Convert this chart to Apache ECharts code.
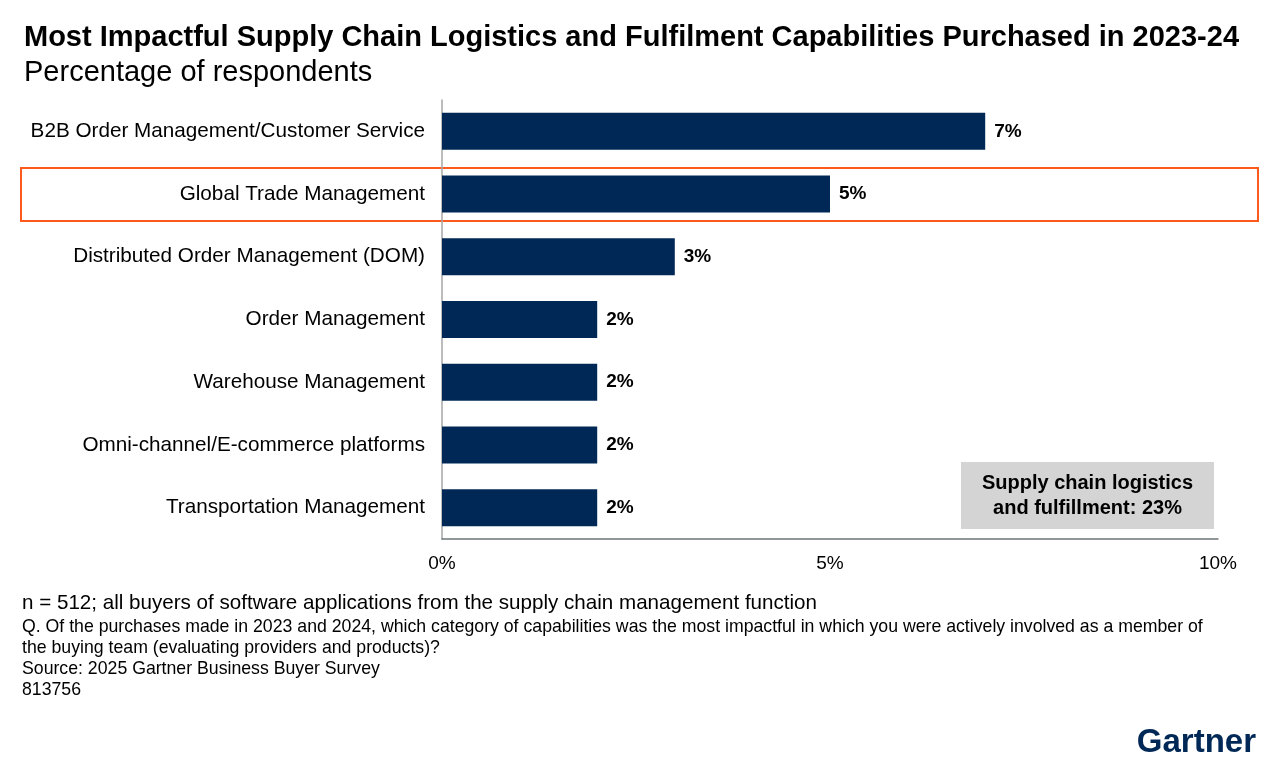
<!DOCTYPE html>
<html>
<head>
<meta charset="utf-8">
<script src="https://cdn.jsdelivr.net/npm/echarts@6/dist/echarts.min.js"></script>
<style>
  html, body { margin: 0; padding: 0; background: #fff; }
  #chart { width: 1280px; height: 770px; }
</style>
</head>
<body>
<div id="chart"></div>
<script>
var categories = [
  'B2B Order Management/Customer Service',
  'Global Trade Management',
  'Distributed Order Management (DOM)',
  'Order Management',
  'Warehouse Management',
  'Omni-channel/E-commerce platforms',
  'Transportation Management'
];
var values = [7, 5, 3, 2, 2, 2, 2];
var xTicks = [0, 5, 10];

var font = '"Liberation Sans", Arial, sans-serif';
var navy = '#002856';

var myChart = echarts.init(document.getElementById('chart'));

var option = {
  animation: false,
  textStyle: { fontFamily: font },
  title: [{
    text: 'Most Impactful Supply Chain Logistics and Fulfilment Capabilities Purchased in 2023-24',
    left: 19, top: 18,
    textStyle: { fontSize: 29, fontWeight: 'bold', color: '#000', fontFamily: font }
  }, {
    text: 'Percentage of respondents',
    left: 19, top: 53,
    textStyle: { fontSize: 29, fontWeight: 'normal', color: '#000', fontFamily: font }
  }],
  grid: { left: 442, right: 62, top: 100, bottom: 231 },
  xAxis: {
    type: 'value',
    min: xTicks[0], max: xTicks[xTicks.length - 1], interval: 5,
    axisLine: { show: true, lineStyle: { color: '#6e7677', width: 1.5 } },
    axisTick: { show: false },
    splitLine: { show: false },
    axisLabel: {
      formatter: '{value}%', fontSize: 19, color: '#000', margin: 15, fontFamily: font
    }
  },
  yAxis: {
    type: 'category',
    inverse: true,
    data: categories,
    axisLine: { show: true, lineStyle: { color: '#a6a6a6', width: 1.5 } },
    axisTick: { show: false },
    axisLabel: { fontSize: 20.7, color: '#000', margin: 17, fontFamily: font }
  },
  series: [{
    type: 'bar',
    data: values,
    barWidth: 37,
    itemStyle: { color: navy },
    label: {
      show: true, position: 'right', distance: 9,
      formatter: '{c}%', fontSize: 19, fontWeight: 'bold', color: '#000', fontFamily: font
    }
  }],
  graphic: [
    {
      type: 'rect',
      shape: { x: 21, y: 168, width: 1237, height: 53 },
      style: { fill: null, stroke: '#fe5a1d', lineWidth: 2 }
    },
    {
      type: 'rect',
      shape: { x: 961, y: 462, width: 253, height: 67 },
      style: { fill: '#d4d4d4' }
    },
    {
      type: 'text', x: 1087.5, y: 471,
      style: {
        text: 'Supply chain logistics\nand fulfillment: 23%',
        align: 'center', verticalAlign: 'top', fontSize: 20, fontWeight: 'bold',
        lineHeight: 25, fill: '#000', fontFamily: font
      }
    },
    {
      type: 'text', x: 22, y: 593,
      style: {
        text: 'n = 512; all buyers of software applications from the supply chain management function',
        fontSize: 20.6, fill: '#000', fontFamily: font
      }
    },
    {
      type: 'text', x: 22, y: 617,
      style: {
        text: 'Q. Of the purchases made in 2023 and 2024, which category of capabilities was the most impactful in which you were actively involved as a member of\nthe buying team (evaluating providers and products)?\nSource: 2025 Gartner Business Buyer Survey\n813756',
        fontSize: 17.7, lineHeight: 21, fill: '#000', fontFamily: font
      }
    },
    {
      type: 'text', x: 1256, y: 726,
      style: {
        text: 'Gartner', align: 'right', fontSize: 33, fontWeight: 'bold', fill: navy, fontFamily: font
      }
    }
  ]
};

myChart.setOption(option);
</script>
</body>
</html>
